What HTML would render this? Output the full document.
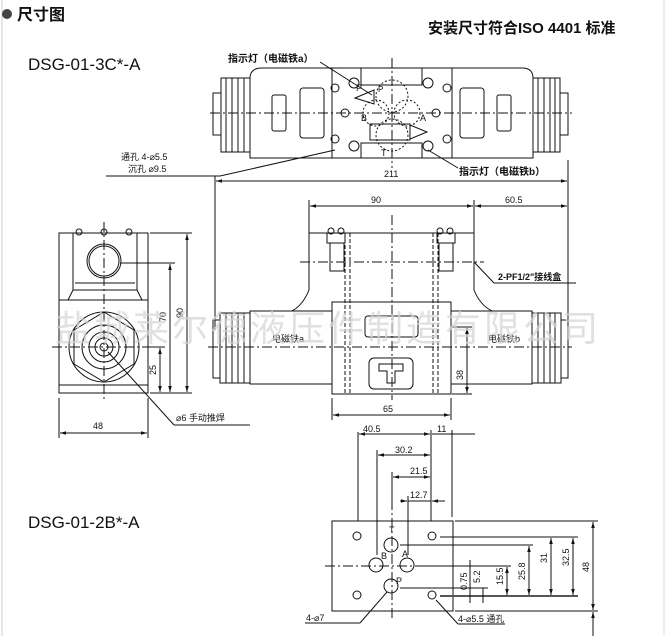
<!DOCTYPE html>
<html><head><meta charset="utf-8"><style>
html,body{margin:0;padding:0;background:#fff;}
svg{display:block;}
text{font-family:"Liberation Sans","Noto Sans CJK SC",sans-serif;fill:#111;}
</style></head><body>
<svg width="667" height="636" viewBox="0 0 667 636" xmlns="http://www.w3.org/2000/svg">
<defs>
<marker id="ar" viewBox="0 0 10 10" refX="10" refY="5" markerWidth="6" markerHeight="6" orient="auto-start-reverse"><path d="M0,2 L10,5 L0,8 z" fill="#111"/></marker>
</defs>
<line x1="2" y1="0" x2="2" y2="636" stroke="#ccc" stroke-width="1"/>
<line x1="664" y1="0" x2="664" y2="636" stroke="#ddd" stroke-width="1"/>
<!-- header -->
<circle cx="7" cy="14" r="5" fill="#444"/>
<text x="17" y="20" font-size="16" font-weight="bold">尺寸图</text>
<text x="428" y="33" font-size="15" font-weight="bold">安装尺寸符合ISO 4401 标准</text>
<text x="28" y="70" font-size="17">DSG-01-3C*-A</text>
<text x="28" y="528" font-size="17">DSG-01-2B*-A</text>

<g fill="none" stroke="#111" stroke-width="1">
<!-- TOP VIEW -->
<rect x="213" y="93" width="8" height="42"/>
<rect x="221" y="78" width="29" height="74"/>
<line x1="226" y1="78" x2="226" y2="152"/><line x1="232" y1="78" x2="232" y2="152"/><line x1="238" y1="78" x2="238" y2="152"/><line x1="244" y1="78" x2="244" y2="152"/>
<path d="M250,158 L250,78 Q250,68 262,68 L332,68 L332,158 Z"/>
<rect x="272" y="95" width="14" height="36" rx="2"/>
<rect x="300" y="88" width="24" height="50" rx="3"/>
<rect x="560" y="93" width="8" height="42"/>
<rect x="533" y="78" width="27" height="74"/>
<line x1="538" y1="78" x2="538" y2="152"/><line x1="544" y1="78" x2="544" y2="152"/><line x1="550" y1="78" x2="550" y2="152"/><line x1="555" y1="78" x2="555" y2="152"/>
<path d="M452,158 L452,68 L522,68 Q533,68 533,78 L533,158 Z"/>
<rect x="497" y="95" width="14" height="36" rx="2"/>
<rect x="460" y="88" width="24" height="50" rx="3"/>
<rect x="332" y="68" width="120" height="90"/>
<path d="M361,68 L361,85 L422,85 L422,68"/>
<path d="M361,158 L361,143 L422,143 L422,158"/>
<circle cx="335" cy="88" r="4"/><circle cx="354" cy="83" r="5"/>
<circle cx="335" cy="139" r="4"/><circle cx="354" cy="146" r="5"/>
<circle cx="345" cy="113" r="4"/><circle cx="436" cy="113" r="4"/>
<circle cx="447" cy="88" r="4"/><circle cx="428" cy="83" r="5"/>
<circle cx="447" cy="139" r="4"/><circle cx="428" cy="146" r="5"/>
<g stroke-dasharray="2,2"><circle cx="392" cy="96" r="16"/><circle cx="392" cy="135" r="16"/><circle cx="376" cy="113" r="13"/><circle cx="407" cy="113" r="13"/></g>
<rect x="370" y="124" width="40" height="16"/>
<path d="M355,98 L374,90 L374,104 Z"/>
<path d="M410,125 L427,132 L410,139 Z"/>
<line x1="210" y1="113" x2="572" y2="113" stroke-dasharray="10,3,2,3"/>
<line x1="392" y1="58" x2="392" y2="168" stroke-dasharray="10,3,2,3"/>
<line x1="320" y1="62" x2="372" y2="95"/>
<line x1="458" y1="168" x2="428" y2="150"/>
<line x1="106" y1="176" x2="220" y2="176"/><line x1="220" y1="176" x2="335" y2="150"/>
<!-- 211 -->
<line x1="215" y1="176" x2="215" y2="330"/><line x1="568" y1="160" x2="568" y2="330"/>
<line x1="216" y1="181" x2="567" y2="181" marker-start="url(#ar)" marker-end="url(#ar)"/>

<!-- FRONT VIEW -->
<line x1="309" y1="200" x2="309" y2="233"/><line x1="474" y1="200" x2="474" y2="233"/>
<line x1="310" y1="206" x2="473" y2="206" marker-start="url(#ar)" marker-end="url(#ar)"/>
<line x1="475" y1="206" x2="567" y2="206" marker-start="url(#ar)" marker-end="url(#ar)"/>
<path d="M309,233 L474,233 L474,290 Q480,305 492,311 M309,233 L309,290 Q303,305 292,311"/>
<rect x="327" y="233" width="18" height="10"/><rect x="437" y="233" width="18" height="10"/>
<circle cx="331" cy="231" r="3"/><circle cx="341" cy="231" r="3"/><circle cx="440" cy="231" r="3"/><circle cx="450" cy="231" r="3"/>
<rect x="330" y="243" width="14" height="28"/><rect x="439" y="243" width="14" height="28"/>
<line x1="300" y1="262" x2="484" y2="262" stroke-dasharray="10,3,2,3"/>
<rect x="213" y="320" width="7" height="58"/>
<rect x="220" y="313" width="30" height="70"/>
<line x1="226" y1="313" x2="226" y2="383"/><line x1="232" y1="313" x2="232" y2="383"/><line x1="238" y1="313" x2="238" y2="383"/><line x1="244" y1="313" x2="244" y2="383"/>
<rect x="250" y="311" width="82" height="73"/>
<rect x="561" y="320" width="7" height="58"/>
<rect x="532" y="313" width="29" height="70"/>
<line x1="538" y1="313" x2="538" y2="383"/><line x1="544" y1="313" x2="544" y2="383"/><line x1="550" y1="313" x2="550" y2="383"/><line x1="555" y1="313" x2="555" y2="383"/>
<rect x="451" y="311" width="81" height="73"/>
<rect x="332" y="302" width="119" height="92"/>
<line x1="345" y1="233" x2="345" y2="394" stroke-dasharray="4,2"/><line x1="350" y1="233" x2="350" y2="394" stroke-dasharray="4,2"/>
<line x1="433" y1="233" x2="433" y2="394" stroke-dasharray="4,2"/><line x1="438" y1="233" x2="438" y2="394" stroke-dasharray="4,2"/>
<rect x="365" y="316" width="53" height="21" rx="3"/>
<rect x="369" y="358" width="44" height="31" rx="5"/>
<path d="M379,364 L403,364 L403,371 L395,371 L395,383 L387,383 L387,371 L379,371 Z"/>
<line x1="208" y1="347" x2="572" y2="347" stroke-dasharray="10,3,2,3"/>
<line x1="392" y1="215" x2="392" y2="400" stroke-dasharray="10,3,2,3"/>
<line x1="474" y1="262" x2="494" y2="283"/><line x1="494" y1="283" x2="576" y2="283"/>
<line x1="452" y1="327" x2="472" y2="327"/><line x1="452" y1="394" x2="472" y2="394"/>
<line x1="467" y1="328" x2="467" y2="393" marker-start="url(#ar)" marker-end="url(#ar)"/>
<line x1="332" y1="398" x2="332" y2="420"/><line x1="451" y1="398" x2="451" y2="420"/>
<line x1="333" y1="415" x2="450" y2="415" marker-start="url(#ar)" marker-end="url(#ar)"/>

<!-- SIDE VIEW -->
<rect x="59" y="233" width="89" height="160"/>
<path d="M73,233 L73,290 L68,300 M137,233 L137,290 L142,300"/>
<line x1="73" y1="290" x2="137" y2="290"/><line x1="75" y1="283" x2="135" y2="283"/>
<line x1="59" y1="300" x2="148" y2="300"/>
<circle cx="104" cy="261" r="17"/><circle cx="104" cy="261" r="15"/>
<circle cx="79" cy="232" r="3"/><circle cx="104" cy="232" r="3"/><circle cx="129" cy="232" r="3"/>
<circle cx="104" cy="347" r="35"/>
<polygon points="104,312 134,330 134,364 104,382 74,364 74,330"/>
<circle cx="104" cy="347" r="22"/><circle cx="104" cy="347" r="15"/><circle cx="104" cy="347" r="9"/><circle cx="104" cy="347" r="4"/>
<line x1="59" y1="385" x2="148" y2="385"/>
<line x1="104" y1="222" x2="104" y2="400" stroke-dasharray="10,3,2,3"/>
<line x1="52" y1="347" x2="165" y2="347" stroke-dasharray="10,3,2,3"/>
<line x1="150" y1="233" x2="192" y2="233"/><line x1="150" y1="393" x2="192" y2="393"/>
<line x1="120" y1="263" x2="175" y2="263"/><line x1="150" y1="347" x2="165" y2="347"/>
<line x1="187" y1="234" x2="187" y2="392" marker-start="url(#ar)" marker-end="url(#ar)"/>
<line x1="170" y1="264" x2="170" y2="392" marker-start="url(#ar)" marker-end="url(#ar)"/>
<line x1="160" y1="348" x2="160" y2="392" marker-start="url(#ar)" marker-end="url(#ar)"/>
<line x1="59" y1="398" x2="59" y2="438"/><line x1="148" y1="398" x2="148" y2="438"/>
<line x1="60" y1="433" x2="147" y2="433" marker-start="url(#ar)" marker-end="url(#ar)"/>
<line x1="108" y1="352" x2="174" y2="425"/><line x1="174" y1="425" x2="250" y2="425"/>

<!-- SUBPLATE -->
<rect x="332" y="521" width="121" height="90"/>
<circle cx="357" cy="536" r="4"/><circle cx="432" cy="536" r="4"/><circle cx="357" cy="595" r="4"/><circle cx="432" cy="595" r="4"/>
<circle cx="391" cy="545" r="7"/><circle cx="376" cy="565" r="7"/><circle cx="407" cy="565" r="7"/><circle cx="391" cy="586" r="7"/>
<line x1="325" y1="566" x2="465" y2="566" stroke-dasharray="10,3,2,3"/>
<line x1="392" y1="500" x2="392" y2="618" stroke-dasharray="10,3,2,3"/>
<line x1="358" y1="432" x2="358" y2="521"/><line x1="377" y1="450" x2="377" y2="555"/>
<line x1="392" y1="472" x2="392" y2="500"/><line x1="408" y1="496" x2="408" y2="555"/>
<line x1="431" y1="430" x2="431" y2="521"/><line x1="452" y1="430" x2="452" y2="517"/>
<line x1="359" y1="434" x2="430" y2="434" marker-start="url(#ar)" marker-end="url(#ar)"/>
<line x1="432" y1="434" x2="475" y2="434"/>
<line x1="378" y1="455" x2="430" y2="455" marker-start="url(#ar)" marker-end="url(#ar)"/>
<line x1="393" y1="477" x2="430" y2="477" marker-start="url(#ar)" marker-end="url(#ar)"/>
<line x1="400" y1="501" x2="407" y2="501" marker-end="url(#ar)"/><line x1="445" y1="501" x2="432" y2="501" marker-end="url(#ar)"/>
<line x1="408" y1="501" x2="431" y2="501"/>
<line x1="455" y1="521" x2="598" y2="521"/><line x1="455" y1="611" x2="598" y2="611"/>
<line x1="440" y1="537" x2="578" y2="537"/><line x1="400" y1="545" x2="533" y2="545"/>
<line x1="415" y1="566" x2="511" y2="566"/>
<line x1="440" y1="596" x2="578" y2="596" stroke-width="2" stroke="#555"/>
<line x1="400" y1="588" x2="488" y2="588"/>
<line x1="593" y1="522" x2="593" y2="610" marker-start="url(#ar)" marker-end="url(#ar)"/>
<line x1="573" y1="538" x2="573" y2="595" marker-start="url(#ar)" marker-end="url(#ar)"/>
<line x1="551" y1="538" x2="551" y2="595" marker-start="url(#ar)" marker-end="url(#ar)"/>
<line x1="529" y1="546" x2="529" y2="595" marker-start="url(#ar)" marker-end="url(#ar)"/>
<line x1="507" y1="567" x2="507" y2="595" marker-start="url(#ar)" marker-end="url(#ar)"/>
<line x1="483" y1="588" x2="483" y2="603"/><line x1="470" y1="560" x2="470" y2="603"/>
<line x1="593" y1="636" x2="593" y2="612" marker-end="url(#ar)"/>
<line x1="305" y1="623" x2="360" y2="623"/><line x1="360" y1="623" x2="387" y2="592"/>
<line x1="436" y1="600" x2="458" y2="624"/><line x1="458" y1="624" x2="505" y2="624"/>
</g>

<!-- labels -->
<g font-size="10" font-weight="bold">
<text x="228" y="62">指示灯（电磁铁a）</text>
<text x="459" y="175">指示灯（电磁铁b）</text>
<text x="498" y="280" font-size="9">2-PF1/2"接线盒</text>
</g>
<g font-size="9">
<text x="121" y="160">通孔  4-⌀5.5</text>
<text x="128" y="172">沉孔   ⌀9.5</text>
<text x="356" y="91">P</text><text x="361" y="121">B</text><text x="420" y="121">A</text><text x="381" y="156">T</text>
<text x="378" y="92" font-size="8">P</text>
<text x="384" y="177">211</text>
<text x="371" y="203">90</text>
<text x="505" y="203">60.5</text>
<text x="272" y="342">电磁铁a</text>
<text x="488" y="342">电磁铁b</text>
<text x="383" y="412">65</text>
<text x="93" y="429">48</text>
<text x="176" y="421">⌀6 手动推焊</text>
<text x="363" y="432">40.5</text>
<text x="437" y="432">11</text>
<text x="395" y="453">30.2</text>
<text x="410" y="474">21.5</text>
<text x="410" y="498">12.7</text>
<text x="389" y="533">T</text><text x="381" y="559">B</text><text x="402" y="557">A</text><text x="396" y="584">P</text>
<text x="306" y="621">4-⌀7</text>
<text x="458" y="622">4-⌀5.5 通孔</text>
</g>
<g font-size="9">
<text transform="translate(183,318) rotate(-90)">90</text>
<text transform="translate(166,322) rotate(-90)">70</text>
<text transform="translate(156,375) rotate(-90)">25</text>
<text transform="translate(463,380) rotate(-90)">38</text>
<text transform="translate(589,572) rotate(-90)">48</text>
<text transform="translate(569,566) rotate(-90)">32.5</text>
<text transform="translate(547,563) rotate(-90)">31</text>
<text transform="translate(525,580) rotate(-90)">25.8</text>
<text transform="translate(503,585) rotate(-90)">15.5</text>
<text transform="translate(480,583) rotate(-90)">5.2</text>
<text transform="translate(467,590) rotate(-90)">0.75</text>
</g>
<text x="55" y="341" font-size="36" style="fill:#d4d4d4;font-family:'Noto Sans CJK SC',sans-serif;letter-spacing:3px" opacity="0.7">盐城莱尔德液压件制造有限公司</text>
</svg>
</body></html>
